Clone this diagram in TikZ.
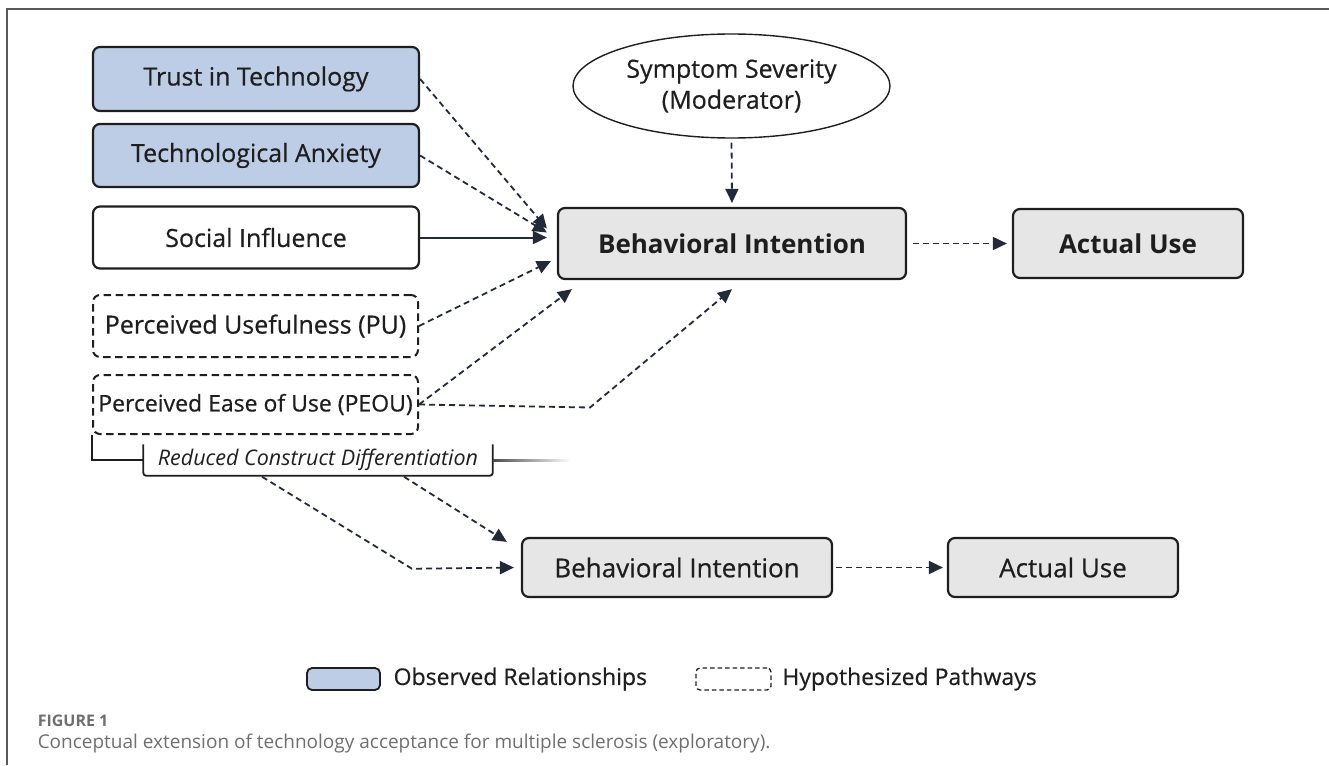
\documentclass[tikz,border=0pt]{standalone}
\usepackage{fontspec}
\setmainfont{Open Sans}
\newfontfamily\nodefont{Open Sans}[FakeBold=0.5]
\newfontfamily\capfont{Open Sans}
\usetikzlibrary{arrows.meta, shapes.geometric, calc}
\definecolor{obsblue}{HTML}{BDCDE5}
\definecolor{boxgray}{HTML}{E6E6E6}
\definecolor{inkdark}{HTML}{1E1E1E}
\definecolor{tipdark}{HTML}{222A3A}
\definecolor{framegray}{HTML}{5A5A5A}
\definecolor{capgray}{HTML}{6E6E6E}

\begin{document}
\begin{tikzpicture}[x=1pt, y=-1pt, line width=1.5pt,
        base/.style={draw=inkdark, line width=2.2pt, rounded corners=7pt, inner sep=0pt, text=inkdark, font=\nodefont\fontsize{25}{30}\selectfont},
        obsbox/.style={base, fill=obsblue, minimum width=326pt, minimum height=64pt},
        plainbox/.style={base, fill=white, minimum width=326pt, minimum height=62pt},
        hypbox/.style={base, line width=2pt, dash pattern=on 7.5pt off 4.5pt, minimum width=325pt, minimum height=60pt},
        outbox/.style={base, fill=boxgray, font=\fontsize{26}{30}\selectfont\bfseries},
        hyp/.style={draw=tipdark, line width=1.8pt, dash pattern=on 6pt off 4pt, -{Triangle[length=14pt, width=13pt]}},
        obsarrow/.style={draw=tipdark, line width=2pt, -{Triangle[length=14pt, width=13pt]}},
        legtext/.style={anchor=west, inner sep=0pt, text=inkdark, font=\nodefont\fontsize{23}{26}\selectfont},
        captext/.style={anchor=west, inner sep=0pt, text=capgray}
    ]
        \useasboundingbox (0,0) rectangle (1329,765);
        \draw[framegray, line width=1.4pt] (7,765) -- (7,9) -- (1329,9);

        % Nodes
        \node (trust) [obsbox] at (256,79) {Trust in Technology};
        \node (anxiety) [obsbox, minimum height=63pt] at (256,155.5) {Technological Anxiety};
        \node (social) [plainbox] at (256,237.5) {Social Influence};
        \node (pu) [hypbox, minimum height=62pt] at (255.5,326) {Perceived Usefulness (PU)};
        \node (peou) [hypbox, minimum height=59pt, font=\nodefont\fontsize{23}{28}\selectfont] at (255.5,404.5) {Perceived Ease of Use (PEOU)};
        \node (rcd) [minimum width=348pt, minimum height=30pt, inner sep=0pt, text=inkdark, font=\fontsize{21.5}{24}\selectfont\itshape] at (318,460) {Reduced Construct Differentiation};

        \node (moderator) [ellipse, draw=inkdark, line width=1.4pt, minimum width=317pt, minimum height=104pt, inner sep=0pt, align=center, text=inkdark, font=\nodefont\fontsize{25}{31}\selectfont] at (731.5,86) {Symptom Severity\\(Moderator)};
        \node (bi) [outbox, minimum width=348pt, minimum height=71pt] at (732,243.5) {Behavioral Intention};
        \node (use) [outbox, minimum width=230pt, minimum height=69pt] at (1128,243.5) {Actual Use};

        \node (bi2) [outbox, font=\nodefont\fontsize{26}{30}\selectfont, minimum width=310pt, minimum height=59pt] at (677,567.5) {Behavioral Intention};
        \node (use2) [outbox, font=\nodefont\fontsize{26}{30}\selectfont, minimum width=230pt, minimum height=59pt] at (1063,567.5) {Actual Use};

        % Legend and caption
        \node (legobs) [base, fill=obsblue, line width=1.8pt, rounded corners=5pt, minimum width=73pt, minimum height=22pt] at (343.5,679) {};
        \node (legobstext) [legtext] at ($(legobs.east)+(12,0)$) {Observed Relationships};
        \node (leghyp) [draw=inkdark, line width=1.3pt, dash pattern=on 4.5pt off 3pt, rounded corners=4pt, minimum width=75pt, minimum height=22pt, inner sep=0pt] at (733.5,679) {};
        \node (leghyptext) [legtext] at ($(leghyp.east)+(10,0)$) {Hypothesized Pathways};

        \node (figlabel) [captext] at (37,721) {\capfont\bfseries\fontsize{16}{18}\selectfont FIGURE 1};
        \node (caption) [captext] at (37,744) {\capfont\fontsize{19}{22}\selectfont Conceptual extension of technology acceptance for multiple sclerosis (exploratory).};

        % Bracket under PEOU
        \draw[inkdark, line width=1.8pt, rounded corners=3pt] (rcd.north west) -- (rcd.south west) -- (rcd.south east) -- (rcd.north east);
        \draw[inkdark, line width=1.8pt] (peou.south west) |- (rcd.west);
        \shade[left color=inkdark!80, right color=white] ($(rcd.east)+(0,-1)$) rectangle ($(rcd.east)+(78,1)$);

        % Edges
        \draw[hyp] (trust.east) -- ($(bi.west)+(-10,-15)$);
        \draw[hyp] (anxiety.east) -- ($(bi.west)+(-10,-11)$);
        \draw[obsarrow] (social.east) -- ($(social.east -| bi.west)+(-10,0)$);
        \draw[hyp] (pu.east) -- ($(bi.south west)+(-6,-19)$);
        \draw[hyp] (peou.east) -- ($(bi.south west)+(15,9)$);
        \draw[hyp] (peou.east) -- ($(peou.east)+(171,3)$) -- ($(bi.south)+(0,9)$);
        \draw[hyp, shorten <=4pt] (moderator.south) -- ($(bi.north)+(0,-4)$);
        \draw[hyp, shorten <=6pt, shorten >=5pt] (bi.east) -- (use.west);

        \draw[hyp] ($(rcd.south)+(-56,1)$) -- ($(rcd.south)+(94,93)$) -- ($(bi2.west)+(-7,0)$);
        \draw[hyp] ($(rcd.south)+(86,1)$) -- ($(bi2.north west)+(-14,5)$);
        \draw[hyp, shorten <=3pt, shorten >=4pt] (bi2.east) -- (use2.west);
    \end{tikzpicture}
\end{document}
